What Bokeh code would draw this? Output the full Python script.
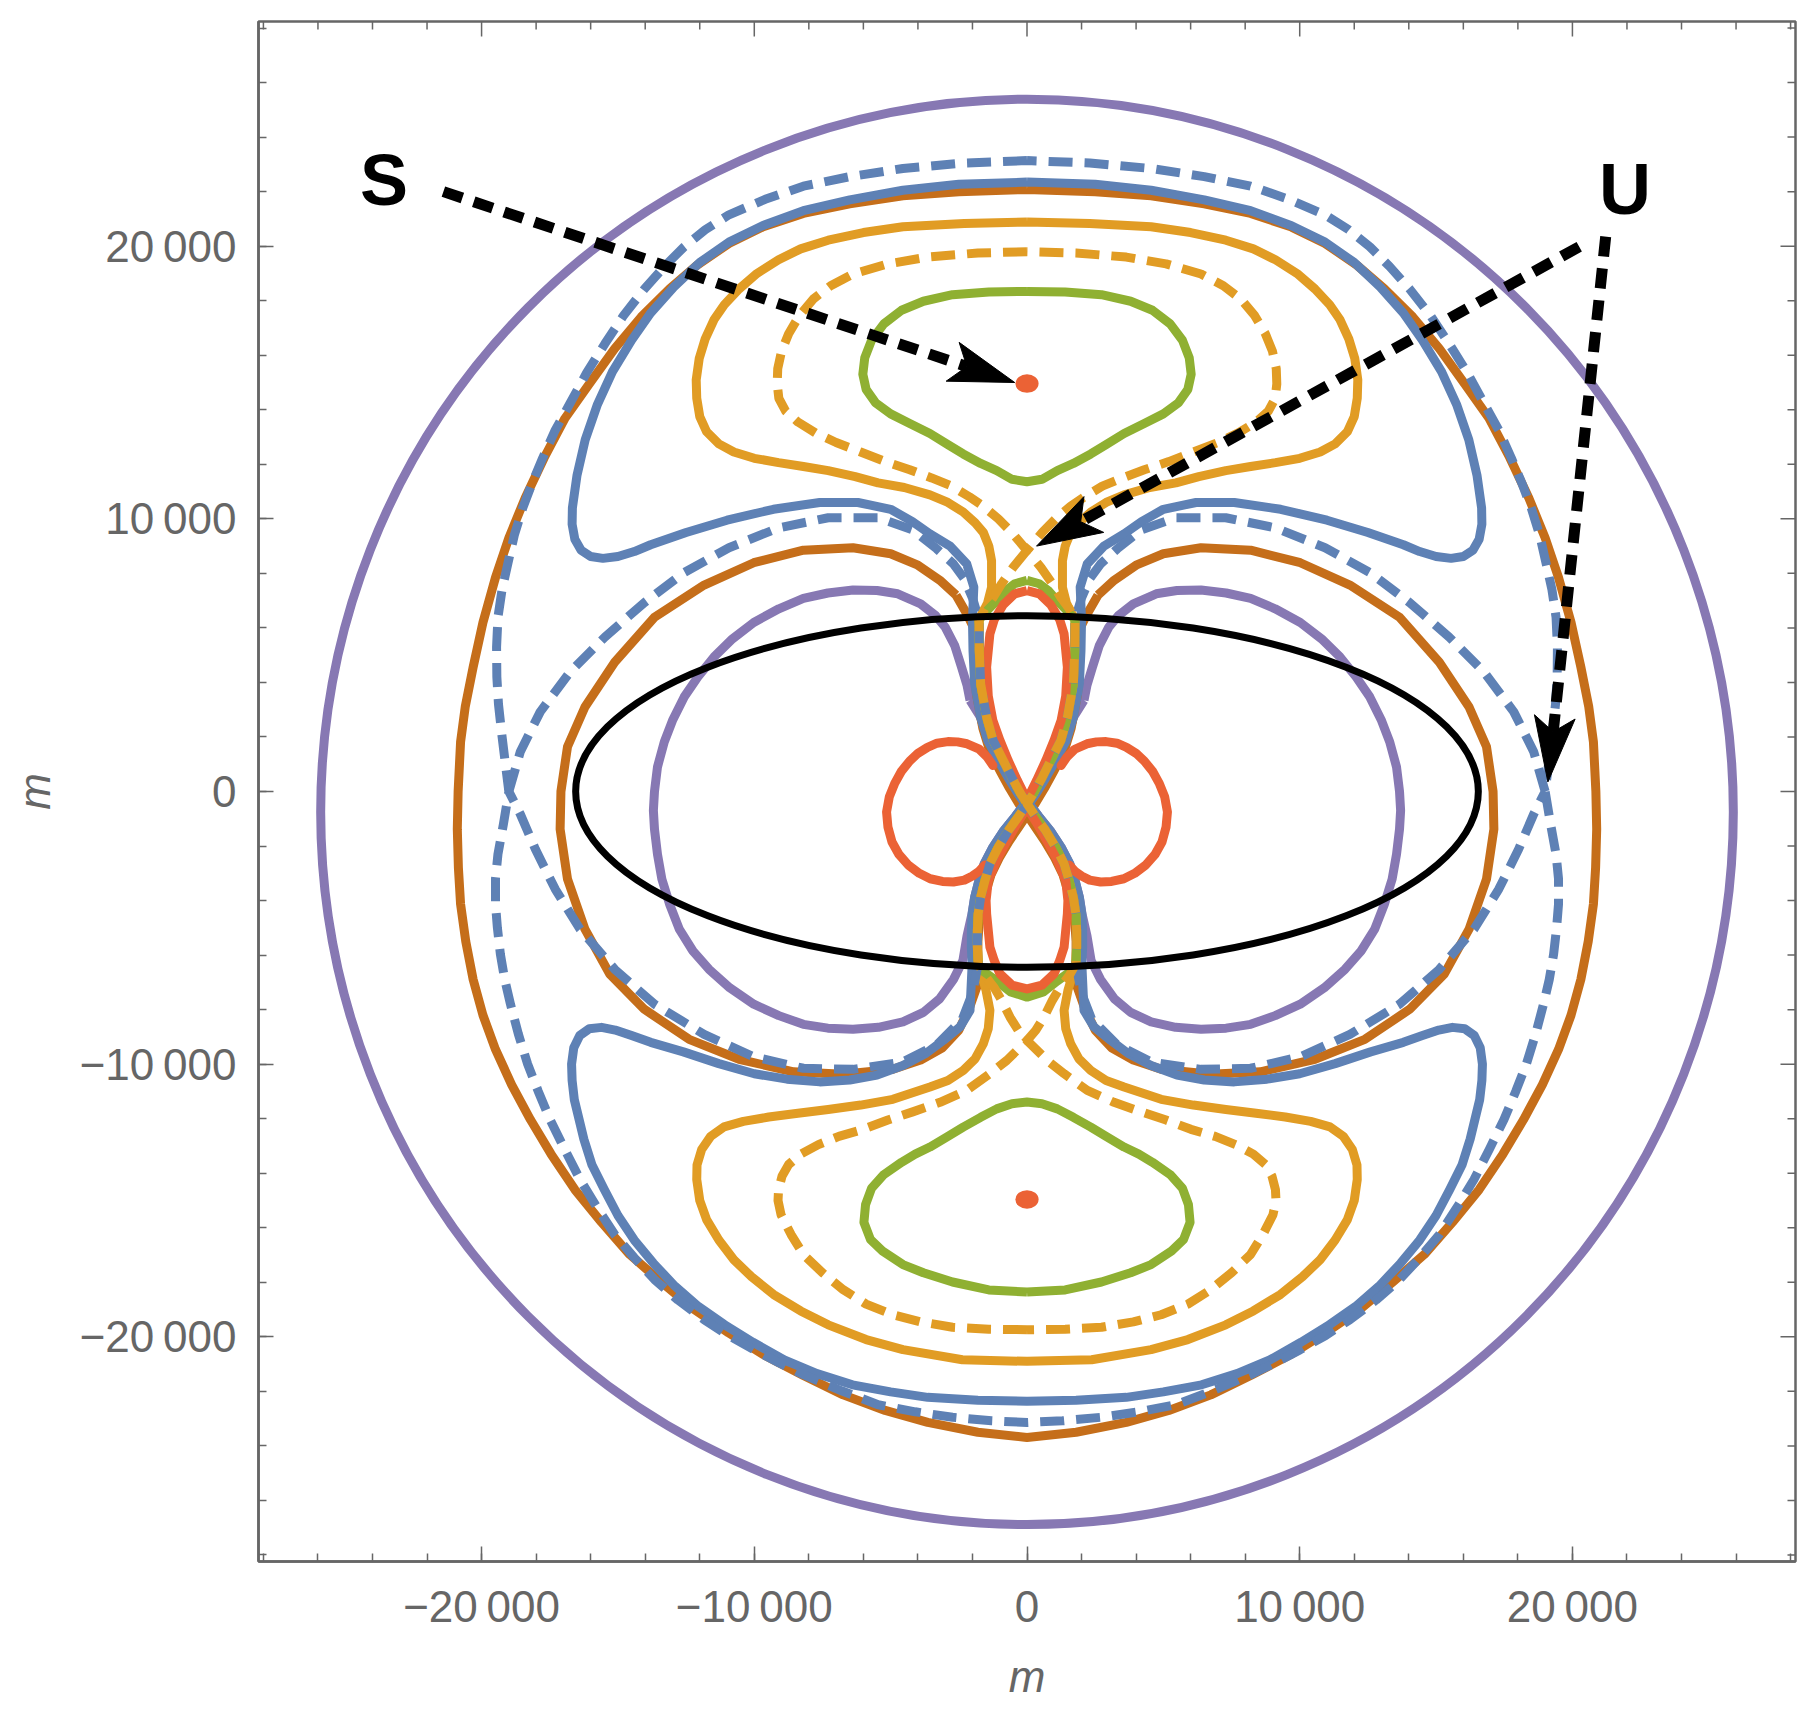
import numpy as np
from bokeh.plotting import figure
from bokeh.models import Range1d, FixedTicker, Label
from bokeh.embed import file_html
from bokeh.resources import INLINE

KM = 1000.0

# ---------------- axes ----------------
major_ticks = [-20000, -10000, 0, 10000, 20000]
minor_ticks = [-28000, -26000, -24000, -22000, -20000, -18000, -16000, -14000, -12000, -10000,
               -8000, -6000, -4000, -2000, 0, 2000, 4000, 6000, 8000, 10000, 12000, 14000,
               16000, 18000, 20000, 22000, 24000, 26000, 28000]
tick_labels = ["\u221220\u2009000", "\u221210\u2009000", "0", "10\u2009000", "20\u2009000"]
axis_title = "m"
x_limits = (-28.18, 28.18)
y_limits = (-28.24, 28.24)

# ---------------- curve data (km) ----------------
# shared strands of the central "8" (left side, top -> bottom)
waist_mid = [(-1.76, 6.3), (-1.75, 5.17), (-1.70, 3.95), (-1.48, 2.72), (-1.24, 1.87), (-0.87, 1.14),
             (-0.56, 0.52), (-0.25, -0.05), (0.0, -0.45), (-0.3, -0.9), (-0.68, -1.43), (-1.05, -2.04),
             (-1.36, -2.65), (-1.54, -3.26), (-1.70, -3.88), (-1.79, -4.49), (-1.82, -5.1),
             (-1.82, -5.71), (-1.79, -6.32)]
waist_outer = [(-2.0, 6.3), (-1.98, 5.17), (-1.92, 3.95), (-1.70, 2.72), (-1.44, 1.87), (-1.05, 1.14),
               (-0.70, 0.52), (-0.35, -0.05), (-0.08, -0.45), (-0.42, -0.9), (-0.85, -1.43),
               (-1.25, -2.04), (-1.57, -2.65), (-1.76, -3.26), (-1.92, -3.88), (-2.01, -4.49),
               (-2.04, -5.1), (-2.04, -5.71), (-2.01, -6.32)]
waist_brown = [(-1.95, 6.0), (-1.93, 4.77), (-1.85, 3.55), (-1.62, 2.32), (-1.36, 1.47), (-0.98, 0.74),
               (-0.64, 0.12), (-0.3, -0.45), (0.0, -0.85), (-0.3, -1.3), (-0.66, -1.83), (-1.02, -2.44),
               (-1.32, -3.05), (-1.5, -3.66), (-1.66, -4.28), (-1.76, -4.89), (-1.8, -5.5),
               (-1.8, -6.11), (-1.78, -6.72)]

# outer purple contour (near-ellipse): centre, full width, full height
purple_outer_center = (0.0, -0.75)
purple_outer_size = (51.8, 52.3)

# left halves of left/right-symmetric closed curves (from x=0 at top to x=0 at bottom)
brown_outer_half = [(0.0, 22.08), (-2.5, 22.0), (-4.55, 21.85), (-6.5, 21.55), (-8.2, 21.2), (-9.7, 20.7),
                    (-10.93, 20.1), (-12.1, 19.3), (-13.11, 18.43), (-14.15, 17.4), (-15.12, 16.24),
                    (-16.05, 14.95), (-16.94, 13.69), (-17.7, 12.25), (-18.4, 10.77), (-19.0, 9.3),
                    (-19.49, 7.85), (-19.95, 6.2), (-20.31, 4.56), (-20.6, 3.1), (-20.77, 1.82),
                    (-20.86, 0.0), (-20.89, -1.38), (-20.85, -2.8), (-20.77, -4.13), (-20.58, -5.5),
                    (-20.31, -6.89), (-19.95, -8.2), (-19.49, -9.46), (-18.9, -10.75), (-18.21, -12.03),
                    (-17.45, -13.3), (-16.58, -14.6), (-15.6, -15.8), (-14.57, -16.98), (-13.4, -18.0),
                    (-12.2, -19.0), (-10.95, -19.85), (-9.65, -20.66), (-8.2, -21.42), (-6.74, -22.13),
                    (-5.2, -22.7), (-3.64, -23.14), (-1.8, -23.5), (0.0, -23.69)]

dblue_outer_half = [(0.0, 23.14), (-2.3, 23.05), (-4.55, 22.85), (-6.5, 22.55), (-8.2, 22.2), (-9.6, 21.72),
                    (-10.93, 21.15), (-11.8, 20.6), (-12.57, 19.98), (-13.3, 19.25), (-14.03, 18.43),
                    (-14.8, 17.45), (-15.48, 16.42), (-16.15, 15.35), (-16.76, 14.23), (-17.3, 13.25),
                    (-17.76, 12.23), (-18.15, 11.3), (-18.49, 10.4), (-18.8, 9.4), (-19.03, 8.39),
                    (-19.25, 7.4), (-19.4, 6.39), (-19.45, 5.3), (-19.44, 4.2), (-19.38, 3.2),
                    (-19.27, 2.19), (-19.15, 1.2), (-19.0, 0.0), (-19.2, -1.2), (-19.4, -2.3),
                    (-19.49, -3.2), (-19.49, -4.13), (-19.42, -5.0), (-19.31, -5.97), (-19.15, -6.9),
                    (-18.94, -7.8), (-18.65, -8.9), (-18.31, -10.0), (-17.92, -11.0), (-17.49, -12.03),
                    (-16.95, -13.13), (-16.39, -14.23), (-15.77, -15.25), (-15.12, -16.25), (-14.4, -17.1),
                    (-13.66, -17.9), (-12.8, -18.65), (-11.84, -19.37), (-10.95, -19.95), (-10.02, -20.47),
                    (-9.1, -20.95), (-8.2, -21.39), (-6.8, -21.98), (-5.46, -22.49), (-4.1, -22.75),
                    (-2.73, -22.95), (-1.3, -23.08), (0.0, -23.14)]

blue_half = ([(0.0, 22.35), (-2.5, 22.27), (-4.55, 22.05), (-6.5, 21.7), (-8.2, 21.3), (-9.7, 20.75),
              (-10.93, 20.15), (-12.0, 19.4), (-12.95, 18.5), (-13.8, 17.55), (-14.5, 16.55), (-15.2, 15.4),
              (-15.75, 14.2), (-16.2, 12.9), (-16.5, 11.6), (-16.67, 10.4), (-16.68, 9.8), (-16.58, 9.25),
              (-16.35, 8.85), (-16.0, 8.62), (-15.55, 8.55), (-15.0, 8.62), (-14.4, 8.8), (-13.8, 9.05),
              (-12.5, 9.5), (-11.0, 9.95), (-9.3, 10.35), (-7.6, 10.6), (-6.2, 10.6), (-5.0, 10.35),
              (-4.2, 9.9), (-3.56, 9.45), (-2.82, 9.0), (-2.21, 8.35), (-1.95, 7.5)]
             + waist_outer +
             [(-2.09, -8.03), (-2.46, -8.64), (-3.07, -9.13), (-3.7, -9.6), (-4.55, -10.05), (-5.5, -10.4),
              (-6.5, -10.58), (-7.6, -10.65), (-8.8, -10.55), (-10.0, -10.35), (-11.3, -9.98),
              (-12.6, -9.55), (-13.8, -9.2), (-14.5, -8.95), (-15.1, -8.75), (-15.6, -8.65),
              (-16.05, -8.7), (-16.4, -8.95), (-16.62, -9.4), (-16.7, -10.0), (-16.68, -10.6),
              (-16.6, -11.3), (-16.25, -12.75), (-15.95, -13.7), (-15.5, -14.6),
              (-15.0, -15.55), (-14.4, -16.45), (-13.7, -17.3), (-12.95, -18.1), (-12.1, -18.85),
              (-11.1, -19.55), (-10.05, -20.2), (-8.9, -20.85), (-7.7, -21.35), (-6.4, -21.76),
              (-5.0, -22.02), (-3.64, -22.22), (-1.8, -22.33), (0.0, -22.36)])

yellow_half = ([(0.0, 20.89), (-2.3, 20.83), (-4.55, 20.71), (-6.0, 20.5), (-7.29, 20.22), (-8.3, 19.9),
                (-9.11, 19.5), (-9.9, 19.0), (-10.56, 18.43), (-11.1, 17.85), (-11.48, 17.3), (-11.8, 16.6),
                (-12.02, 15.88), (-12.13, 15.1), (-12.11, 14.42), (-12.0, 13.75), (-11.75, 13.2),
                (-11.3, 12.75), (-10.75, 12.45), (-10.0, 12.22), (-9.11, 12.06), (-8.2, 11.92),
                (-7.29, 11.77), (-6.3, 11.55), (-5.46, 11.32), (-4.5, 11.15), (-3.56, 10.88), (-2.9, 10.6),
                (-2.34, 10.25), (-1.9, 9.85), (-1.6, 9.5), (-1.4, 9.0), (-1.3, 8.47), (-1.3, 7.49),
                (-1.45, 6.9)]
               + waist_mid +
               [(-1.5, -7.3), (-1.36, -8.03), (-1.42, -8.7), (-1.6, -9.25), (-1.9, -9.8), (-2.34, -10.23),
                (-2.9, -10.6), (-3.56, -10.84), (-4.92, -11.29), (-6.1, -11.5), (-7.29, -11.66),
                (-8.4, -11.8), (-9.47, -11.94), (-10.4, -12.1), (-11.11, -12.3), (-11.6, -12.65),
                (-11.93, -13.13), (-12.1, -13.7), (-12.11, -14.23), (-12.0, -15.0), (-11.75, -15.7),
                (-11.3, -16.45), (-10.75, -17.17), (-10.1, -17.8), (-9.29, -18.45), (-8.3, -19.05),
                (-7.29, -19.56), (-5.9, -20.1), (-4.55, -20.47), (-2.37, -20.84), (0.0, -20.9)])

dyellow_upper_half = [(0.0, 19.8), (-1.8, 19.75), (-3.64, 19.6), (-5.1, 19.35), (-6.38, 18.98), (-7.2, 18.55),
                      (-7.83, 18.07), (-8.35, 17.45), (-8.74, 16.79), (-9.0, 16.15), (-9.14, 15.51),
                      (-9.16, 14.95), (-9.1, 14.42), (-8.85, 13.95), (-8.4, 13.55), (-7.75, 13.15),
                      (-7.0, 12.8), (-6.1, 12.45), (-5.2, 12.1), (-4.3, 11.8), (-3.5, 11.5), (-2.76, 11.2),
                      (-2.1, 10.8), (-1.6, 10.46), (-1.05, 10.0), (-0.56, 9.5), (0.0, 8.84)]
dyellow_lower_half = [(0.0, -19.74), (-1.4, -19.72), (-2.73, -19.65), (-3.9, -19.45), (-4.92, -19.19),
                      (-5.9, -18.8), (-6.74, -18.27), (-7.5, -17.65), (-8.2, -16.98), (-8.65, -16.25),
                      (-9.02, -15.52), (-9.13, -15.0), (-9.11, -14.6), (-8.98, -14.1), (-8.74, -13.68),
                      (-8.3, -13.3), (-7.65, -12.95), (-6.9, -12.65), (-6.01, -12.39), (-5.1, -12.05),
                      (-4.19, -11.75), (-3.19, -11.4), (-2.21, -10.96), (-1.36, -10.35), (-0.74, -9.86),
                      (0.0, -9.13)]
dyellow_inner_half = ([(0.0, 8.84), (-0.51, 8.22), (-0.93, 7.62), (-1.25, 7.1), (-1.55, 6.7)]
                      + waist_mid +
                      [(-1.55, -6.75), (-1.2, -7.2), (-0.93, -7.66), (-0.62, -8.28), (-0.32, -8.76),
                       (0.0, -9.13)])

green_upper_half = [(0.0, 18.34), (-1.4, 18.32), (-2.73, 18.22), (-3.8, 17.98), (-4.6, 17.65), (-5.25, 17.15),
                    (-5.7, 16.55), (-5.95, 15.9), (-6.02, 15.3), (-5.9, 14.75), (-5.55, 14.25), (-5.0, 13.85),
                    (-4.3, 13.5), (-3.56, 13.13), (-2.9, 12.72), (-2.34, 12.38), (-1.7, 12.03),
                    (-1.11, 11.77), (-0.55, 11.45), (0.0, 11.36)]
green_lower_half = [(0.0, -18.36), (-1.4, -18.28), (-2.73, -17.99), (-3.8, -17.65), (-4.55, -17.35),
                    (-5.3, -16.85), (-5.74, -16.43), (-5.98, -15.8), (-5.92, -15.15), (-5.7, -14.55),
                    (-5.25, -14.05), (-4.6, -13.6), (-4.1, -13.3), (-3.56, -13.04), (-2.9, -12.65),
                    (-2.34, -12.31), (-1.7, -11.95), (-1.11, -11.64), (-0.55, -11.45), (0.0, -11.39)]
green_center_half = ([(0.0, 7.74), (-0.45, 7.62), (-0.8, 7.35), (-1.1, 7.0), (-1.45, 6.65)]
                     + waist_mid +
                     [(-1.6, -6.6), (-1.11, -6.95), (-0.6, -7.35), (0.0, -7.54)])

red_top_half = [(0.0, 7.37), (-0.45, 7.25), (-0.87, 6.85), (-1.2, 6.3), (-1.36, 5.78), (-1.48, 4.56),
                (-1.42, 3.5), (-1.25, 2.6), (-1.0, 1.9), (-0.69, 1.14), (-0.35, 0.4), (0.0, -0.3)]
red_bottom_half = [(0.0, -0.6), (-0.35, -1.15), (-0.75, -1.85), (-1.1, -2.5), (-1.42, -3.26), (-1.5, -4.0),
                   (-1.48, -4.49), (-1.4, -5.3), (-1.36, -5.71), (-1.2, -6.2), (-0.99, -6.69),
                   (-0.55, -7.1), (0.0, -7.24)]
red_side_left = [(-1.25, 0.95), (-1.45, 1.25), (-1.75, 1.55), (-2.2, 1.75), (-2.55, 1.82), (-2.9, 1.83),
                 (-3.3, 1.77), (-3.65, 1.62), (-4.0, 1.4), (-4.3, 1.12), (-4.6, 0.75), (-4.85, 0.3),
                 (-5.05, -0.2), (-5.15, -0.75), (-5.1, -1.3), (-4.95, -1.85), (-4.7, -2.3), (-4.35, -2.7),
                 (-3.95, -3.0), (-3.55, -3.2), (-3.1, -3.3), (-2.7, -3.32), (-2.3, -3.25), (-2.0, -3.1),
                 (-1.75, -2.92), (-1.55, -2.7)]
red_dots = [(0.0, 14.96), (0.0, -14.96)]
red_dot_size = (0.85, 0.68)

# closed rings on the left side (mirrored to the right)
brown_inner_left = ([(-2.6, 7.2), (-3.2, 7.75), (-4.0, 8.3), (-5.0, 8.72), (-6.38, 8.94), (-8.2, 8.85),
                     (-10.02, 8.39), (-11.84, 7.57), (-13.66, 6.39), (-15.12, 4.74), (-16.21, 3.1),
                     (-16.85, 1.64), (-17.09, 0.0), (-17.12, -1.38), (-16.85, -3.21), (-16.21, -5.05),
                     (-15.3, -6.7), (-14.03, -7.99), (-12.39, -9.09), (-10.56, -9.82), (-8.56, -10.28),
                     (-6.74, -10.37), (-4.92, -10.19), (-3.9, -9.85), (-3.1, -9.4), (-2.5, -8.75),
                     (-2.1, -7.9), (-1.85, -7.2)]
                    + waist_brown[::-1] + [(-2.2, 6.5), (-2.6, 7.2)])

purple_inner_left = [(-2.09, 3.34), (-2.2, 3.9), (-2.4, 4.56), (-2.65, 5.35), (-3.0, 6.03), (-3.35, 6.45),
                     (-3.9, 6.88), (-4.74, 7.25), (-5.5, 7.37), (-6.38, 7.39), (-7.3, 7.28), (-8.2, 7.08),
                     (-9.1, 6.7), (-10.02, 6.2), (-10.8, 5.6), (-11.48, 4.93), (-12.07, 4.2), (-12.57, 3.47),
                     (-13.0, 2.6), (-13.3, 1.82), (-13.55, 0.9), (-13.66, 0.0), (-13.7, -0.7),
                     (-13.66, -1.38), (-13.55, -2.3), (-13.39, -3.21), (-13.1, -4.15), (-12.75, -5.05),
                     (-12.25, -5.85), (-11.66, -6.52), (-10.9, -7.2), (-10.02, -7.8), (-9.1, -8.22),
                     (-8.2, -8.54), (-7.3, -8.68), (-6.38, -8.72), (-5.45, -8.65), (-4.55, -8.45),
                     (-3.8, -8.1), (-3.2, -7.6), (-2.7, -6.9), (-2.35, -6.2), (-2.2, -5.3), (-2.02, -4.5),
                     (-1.92, -3.88), (-1.76, -3.26), (-1.57, -2.65), (-1.25, -2.04), (-0.85, -1.43),
                     (-0.42, -0.9), (-0.08, -0.45), (-0.35, -0.05), (-0.70, 0.52), (-1.05, 1.14),
                     (-1.44, 1.87), (-1.70, 2.72), (-2.09, 3.34)]

dblue_inner_left = ([(-19.0, 0.0), (-18.58, 1.46), (-17.85, 2.92), (-16.76, 4.38), (-15.48, 5.66),
                     (-14.03, 6.93), (-12.57, 8.03), (-10.93, 8.94), (-9.11, 9.67), (-7.29, 10.04),
                     (-5.46, 10.04), (-4.2, 9.6), (-3.31, 8.9), (-2.7, 8.35), (-2.3, 7.8), (-2.0, 7.1)]
                    + waist_mid +
                    [(-2.0, -7.4), (-2.37, -8.35), (-3.28, -9.27), (-4.55, -9.92), (-6.38, -10.19),
                     (-8.2, -10.15), (-10.02, -9.73), (-11.84, -8.91), (-13.66, -7.8), (-15.12, -6.52),
                     (-16.39, -5.05), (-17.3, -3.58), (-18.03, -2.11), (-18.58, -0.83), (-19.0, 0.0)])

# black ellipse: centre, full width, full height
body_center = (0.0, 0.0)
body_size = (33.1, 12.9)

# annotations
arrow_start = [(-21.4, 22.0), (20.25, 19.98), (21.22, 20.35)]
arrow_end = [(-0.45, 15.0), (0.35, 9.0), (19.1, 0.35)]
label_text = ["S", "U"]
label_pos = [(-23.58, 22.44), (21.93, 22.08)]

# ---------------- colours / styles ----------------
BLUE, YELLOW, GREEN = "#5E81B5", "#E19C24", "#8FB032"
RED, PURPLE, BROWN = "#EB6235", "#8778B3", "#C56E1A"
GRAY = "#666666"
LW = 9
DASH = "24 12"
FONT = "Liberation Sans"
FRAME_W, FRAME_H = 1537, 1540
BORDER_L, BORDER_R, BORDER_T, BORDER_B = 258, 21, 21, 144
MAJOR_LEN, MINOR_LEN = 15, 8   # px


def sym_closed(half):
    xs = [x for x, _ in half] + [-x for x, _ in reversed(half)]
    ys = [y for _, y in half] + [y for _, y in reversed(half)]
    return [v * KM for v in xs], [v * KM for v in ys]


def mirror_pair(pts):
    xl = [x * KM for x, _ in pts]
    yl = [y * KM for _, y in pts]
    return [xl, [-v for v in xl]], [yl, list(yl)]


p = figure(width=BORDER_L + FRAME_W + BORDER_R, height=BORDER_T + FRAME_H + BORDER_B,
           output_backend="svg", toolbar_location=None,
           x_range=Range1d(x_limits[0] * KM, x_limits[1] * KM),
           y_range=Range1d(y_limits[0] * KM, y_limits[1] * KM),
           min_border_left=BORDER_L, min_border_right=BORDER_R,
           min_border_top=BORDER_T, min_border_bottom=BORDER_B)
p.xgrid.visible = False
p.ygrid.visible = False
p.background_fill_color = "white"
p.border_fill_color = "white"
p.outline_line_color = GRAY
p.outline_line_width = 2.5

for ax in (p.xaxis[0], p.yaxis[0]):
    ax.ticker = FixedTicker(ticks=major_ticks, minor_ticks=minor_ticks)
    ax.axis_line_color = GRAY
    ax.axis_line_width = 2.5
    ax.major_tick_line_color = GRAY
    ax.minor_tick_line_color = GRAY
    ax.major_tick_line_width = 1.5
    ax.minor_tick_line_width = 1.5
    ax.major_tick_in = MAJOR_LEN
    ax.major_tick_out = 0
    ax.minor_tick_in = MINOR_LEN
    ax.minor_tick_out = 0
    ax.major_label_overrides = {t: s for t, s in zip(major_ticks, tick_labels)}
    ax.major_label_text_font = FONT
    ax.major_label_text_font_size = "44px"
    ax.major_label_text_color = GRAY
    ax.axis_label = axis_title
    ax.axis_label_text_font = FONT
    ax.axis_label_text_font_style = "italic"
    ax.axis_label_text_font_size = "44px"
    ax.axis_label_text_color = GRAY
    ax.axis_label_standoff = 18
p.xaxis[0].major_label_standoff = 20
p.yaxis[0].major_label_standoff = 22

# tick marks on the top and right frame edges (no labels)
kx = (x_limits[1] - x_limits[0]) * KM / FRAME_W   # data units per px
ky = (y_limits[1] - y_limits[0]) * KM / FRAME_H
ytop, xright = y_limits[1] * KM, x_limits[1] * KM
minor_only = [t for t in minor_ticks if t not in major_ticks]
p.segment(x0=major_ticks, y0=[ytop] * len(major_ticks), x1=major_ticks,
          y1=[ytop - MAJOR_LEN * ky] * len(major_ticks), line_color=GRAY, line_width=1.5)
p.segment(x0=minor_only, y0=[ytop] * len(minor_only), x1=minor_only,
          y1=[ytop - MINOR_LEN * ky] * len(minor_only), line_color=GRAY, line_width=1.5)
p.segment(y0=major_ticks, x0=[xright] * len(major_ticks), y1=major_ticks,
          x1=[xright - MAJOR_LEN * kx] * len(major_ticks), line_color=GRAY, line_width=1.5)
p.segment(y0=minor_only, x0=[xright] * len(minor_only), y1=minor_only,
          x1=[xright - MINOR_LEN * kx] * len(minor_only), line_color=GRAY, line_width=1.5)

common = dict(line_width=LW, line_join="round")

# purple outer
p.ellipse(x=[purple_outer_center[0] * KM], y=[purple_outer_center[1] * KM],
          width=[purple_outer_size[0] * KM], height=[purple_outer_size[1] * KM],
          fill_color=None, line_color=PURPLE, line_width=LW)
# purple inner rings
xs, ys = mirror_pair(purple_inner_left)
p.multi_line(xs=xs, ys=ys, line_color=PURPLE, **common)
# brown
x, y = sym_closed(brown_outer_half)
p.line(x, y, line_color=BROWN, **common)
xs, ys = mirror_pair(brown_inner_left)
p.multi_line(xs=xs, ys=ys, line_color=BROWN, **common)
# blue solid
x, y = sym_closed(blue_half)
p.line(x, y, line_color=BLUE, **common)
# yellow solid
x, y = sym_closed(yellow_half)
p.line(x, y, line_color=YELLOW, **common)
# green
for half in (green_upper_half, green_lower_half, green_center_half):
    x, y = sym_closed(half)
    p.line(x, y, line_color=GREEN, **common)
# red
for half in (red_top_half, red_bottom_half):
    x, y = sym_closed(half)
    p.line(x, y, line_color=RED, **common)
xs, ys = mirror_pair(red_side_left)
p.multi_line(xs=xs, ys=ys, line_color=RED, line_cap="round", **common)
# dashed blue
x, y = sym_closed(dblue_outer_half)
p.line(x, y, line_color=BLUE, line_dash=DASH, **common)
xs, ys = mirror_pair(dblue_inner_left)
p.multi_line(xs=xs, ys=ys, line_color=BLUE, line_dash=DASH, **common)
# dashed yellow
for half in (dyellow_upper_half, dyellow_lower_half, dyellow_inner_half):
    x, y = sym_closed(half)
    p.line(x, y, line_color=YELLOW, line_dash=DASH, **common)

# black body ellipse
p.ellipse(x=[body_center[0] * KM], y=[body_center[1] * KM],
          width=[body_size[0] * KM], height=[body_size[1] * KM],
          fill_color=None, line_color="black", line_width=7)

# red equilibrium dots
p.ellipse(x=[d[0] * KM for d in red_dots], y=[d[1] * KM for d in red_dots],
          width=red_dot_size[0] * KM, height=red_dot_size[1] * KM,
          fill_color=RED, line_color=None)

# arrows (dashed shaft + notched head)
HEAD_L, HEAD_W, NOTCH = 2.4, 0.75, 0.55
head_xs, head_ys = [], []
for (x0, y0), (x1, y1) in zip(arrow_start, arrow_end):
    d = np.array([x1 - x0, y1 - y0])
    u = d / np.linalg.norm(d)
    n = np.array([-u[1], u[0]])
    tip = np.array([x1, y1])
    base = tip - HEAD_L * u
    inner = tip - (HEAD_L - NOTCH) * u
    pts = [tip, base + HEAD_W * n, inner, base - HEAD_W * n]
    head_xs.append([q[0] * KM for q in pts])
    head_ys.append([q[1] * KM for q in pts])
    p.line([x0 * KM, inner[0] * KM], [y0 * KM, inner[1] * KM], line_color="black",
           line_width=11, line_dash="20 12")
p.patches(head_xs, head_ys, fill_color="black", line_color="black", line_width=1)

for txt, (lx, ly) in zip(label_text, label_pos):
    p.add_layout(Label(x=lx * KM, y=ly * KM, text=txt, text_align="center", text_baseline="middle",
                       text_font=FONT, text_font_style="bold", text_font_size="72px",
                       text_color="black"))

open("out.html", "w").write(file_html(p, INLINE))
